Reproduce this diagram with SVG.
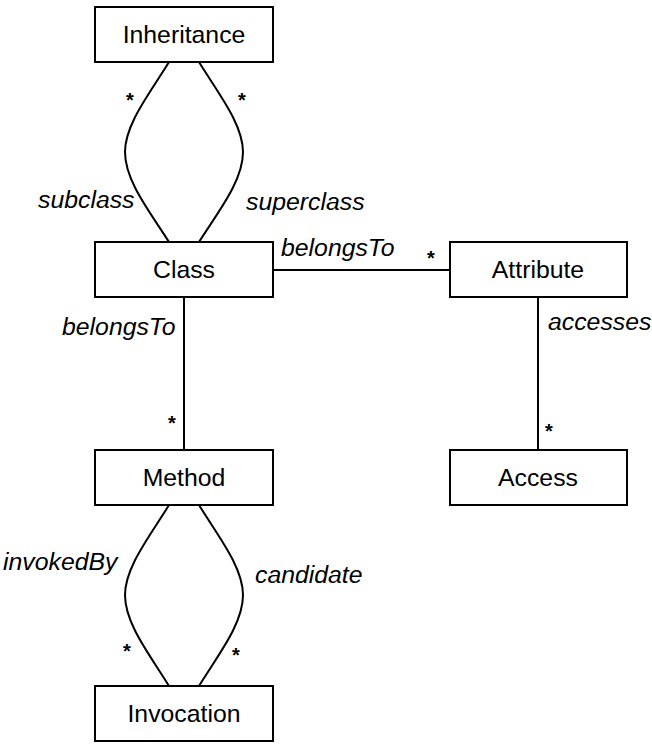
<svg xmlns="http://www.w3.org/2000/svg" width="652" height="747" viewBox="0 0 652 747">
<style>
.box{fill:#fff;stroke:#000;stroke-width:2}
.t{font-family:"Liberation Sans",Arial,sans-serif;font-size:24.8px;text-anchor:middle;fill:#000}
.l{font-family:"Liberation Sans",Arial,sans-serif;font-size:24.8px;font-style:italic;fill:#000}
.s{font-family:"Liberation Sans",Arial,sans-serif;font-size:20px;font-weight:bold;fill:#000;text-anchor:middle}
.c{fill:none;stroke:#000;stroke-width:2}
</style>
<rect width="652" height="747" fill="#fff"/>
<g id="connectors">
<path class="c" d="M169,62 C150,93 125,124 125,152 C125,181 150,212 169,242"/>
<path class="c" d="M199,62 C218,93 243,124 243,152 C243,181 218,212 199,242"/>
<line class="c" x1="273" y1="270" x2="450" y2="270"/>
<line class="c" x1="184" y1="297" x2="184" y2="450"/>
<line class="c" x1="538" y1="297" x2="538" y2="450"/>
<path class="c" d="M169,505 C150,536 125,567 125,595 C125,624 150,655 169,686"/>
<path class="c" d="M199,505 C218,536 243,567 243,595 C243,624 218,655 199,686"/>
<text class="s" x="130" y="107">*</text>
<text class="s" x="242" y="107">*</text>
<text class="l" x="38" y="208">subclass</text>
<text class="l" x="246" y="210">superclass</text>
<text class="l" x="281" y="256">belongsTo</text>
<text class="s" x="431" y="265">*</text>
<text class="l" x="62" y="335">belongsTo</text>
<text class="s" x="172" y="430">*</text>
<text class="l" x="548" y="330">accesses</text>
<text class="s" x="549" y="438">*</text>
<text class="l" x="3" y="570">invokedBy</text>
<text class="l" x="255" y="583">candidate</text>
<text class="s" x="127" y="658">*</text>
<text class="s" x="236" y="662">*</text>
</g>
<g id="inheritance"><rect class="box" x="95" y="7" width="178" height="55"/><text class="t" x="184" y="43">Inheritance</text></g>
<g id="class"><rect class="box" x="95" y="242" width="178" height="55"/><text class="t" x="184" y="278">Class</text></g>
<g id="attribute"><rect class="box" x="450" y="242" width="177" height="55"/><text class="t" x="538" y="278">Attribute</text></g>
<g id="method"><rect class="box" x="95" y="450" width="178" height="55"/><text class="t" x="184" y="486">Method</text></g>
<g id="access"><rect class="box" x="450" y="450" width="177" height="55"/><text class="t" x="538" y="486">Access</text></g>
<g id="invocation"><rect class="box" x="95" y="686" width="178" height="55"/><text class="t" x="184" y="722">Invocation</text></g>
</svg>
